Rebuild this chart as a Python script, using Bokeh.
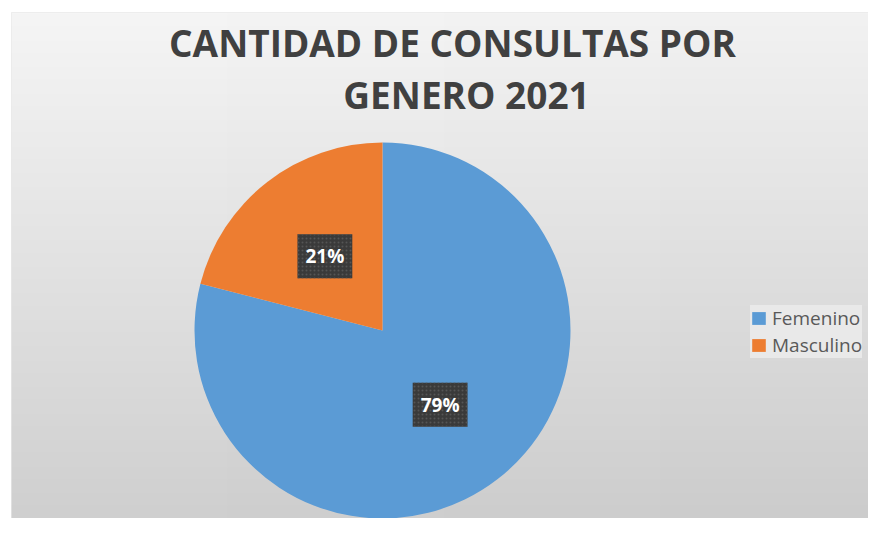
import numpy as np
from math import pi, cos, sin
from bokeh.plotting import figure
from bokeh.models import ColumnDataSource, Range1d, Label, BoxAnnotation, Legend, LegendItem
from bokeh.core.properties import value
from bokeh.embed import file_html
from bokeh.resources import INLINE

# ---- data ----
categories = ["Femenino", "Masculino"]
percentages = [79, 21]
colors = ["#5B9BD5", "#ED7D31"]
title_lines = ["CANTIDAD DE CONSULTAS POR", "GENERO 2021"]

# ---- layout (pixels; data units == screen pixels, y measured upward) ----
W, H = 868, 518
PAGE_H = 534
CX, CY = 382, PAGE_H - 330
R = 188

p = figure(width=W, height=H, output_backend="svg", toolbar_location=None,
           x_range=Range1d(0, W), y_range=Range1d(PAGE_H - H, PAGE_H),
           min_border=0)
p.axis.visible = False
p.grid.visible = False
p.outline_line_color = None
p.background_fill_color = "white"
p.border_fill_color = "white"

# background gradient of the chart area
rows, cols = 256, 4
img = np.empty((rows, cols), dtype=np.uint32)
view = img.view(dtype=np.uint8).reshape((rows, cols, 4))
for i in range(rows):
    for j in range(cols):
        g = int(204 + (243 - 204) * i / (rows - 1) + 2 - j)
        view[i, j] = [g, g, g, 255]
p.image_rgba(image=[img], x=11, y=0, dw=865, dh=522)
p.add_layout(BoxAnnotation(left=11, top=522, right=990, bottom=-100,
                           fill_alpha=0, line_color="#d2d2d2", line_width=1))

# ---- pie ----
total = sum(percentages)
fracs = [v / total for v in percentages]
starts, ends, mids = [], [], []
a = pi / 2
for f in fracs:
    s = a
    e = a - f * 2 * pi
    starts.append(s)
    ends.append(e)
    mids.append((s + e) / 2)
    a = e

src = ColumnDataSource(dict(
    cat=categories, pct=percentages, color=colors,
    start=starts, end=ends,
    lx=[CX + 0.5 * R * cos(m) for m in mids],
    ly=[CY + 0.5 * R * sin(m) for m in mids],
    txt=[f"{v}%" for v in percentages],
))
wr = p.wedge(x=CX, y=CY, radius=R, start_angle="start", end_angle="end",
             direction="clock", fill_color="color", line_color=None, source=src)

p.text(x="lx", y="ly", text="txt", source=src, text_align="center",
       text_baseline="middle", text_color="white", text_font=value("Open Sans"),
       text_font_style="bold", text_font_size="19px",
       background_fill_color="#3a3a3a", background_hatch_pattern="dot",
       background_hatch_color="#555555", background_hatch_scale=4,
       padding=dict(left=8, right=8, top=9, bottom=9))

# ---- title ----
p.add_layout(Label(x=452, y=PAGE_H - 42, text=title_lines[0], text_align="center",
                   text_baseline="middle", text_font="Open Sans",
                   text_font_style="bold", text_font_size="37px", text_color="#404040"))
p.add_layout(Label(x=466, y=PAGE_H - 94, text=title_lines[1], text_align="center",
                   text_baseline="middle", text_font="Open Sans",
                   text_font_style="bold", text_font_size="37px", text_color="#404040"))

# ---- legend ----
legend = Legend(items=[LegendItem(label=categories[i], renderers=[wr], index=i)
                       for i in range(len(categories))],
                location=(750, 160), orientation="vertical",
                glyph_width=17, glyph_height=16, label_standoff=5, spacing=1,
                padding=4, margin=0, label_text_font="Open Sans",
                label_text_font_size="19px", label_text_color="#595959",
                background_fill_color="#e9e9e9", background_fill_alpha=1,
                border_line_color=None)
p.add_layout(legend)

open("out.html", "w").write(file_html(p, INLINE))
